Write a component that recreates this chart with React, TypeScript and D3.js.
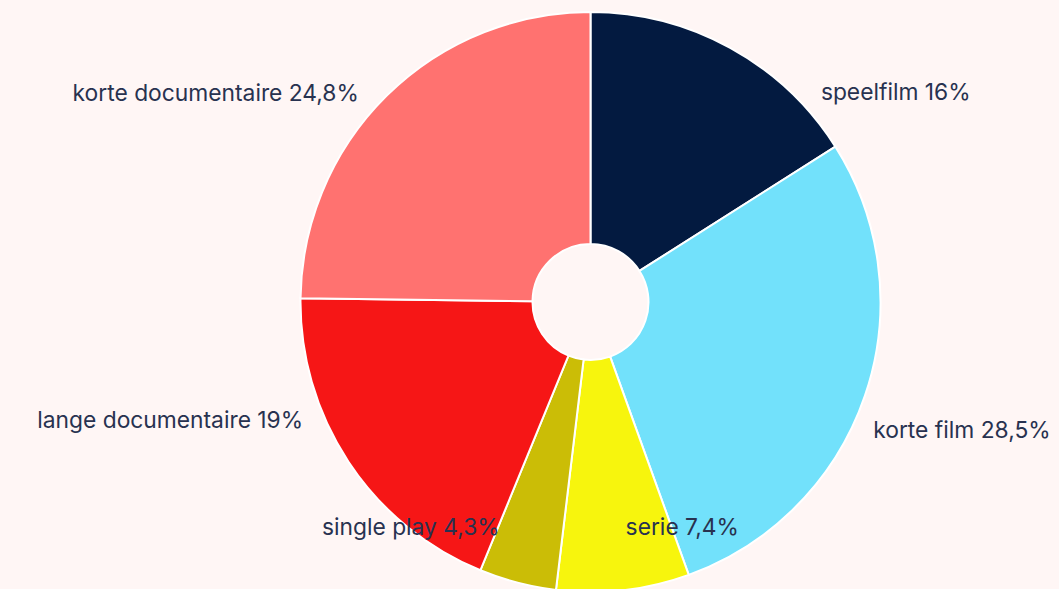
import React, { useEffect, useRef } from 'react';
import * as d3 from 'd3';

// categories + shares (%), clockwise from 12 o'clock
const categories = ['speelfilm', 'korte film', 'serie', 'single play', 'lange documentaire', 'korte documentaire'];
const shares = [16, 28.5, 7.4, 4.3, 19, 24.8];
const colors = ['#031a40', '#72e1fb', '#f7f50d', '#cbbd06', '#f61616', '#ff7270'];

// label layout tweaks (degrees added to the slice mid angle)
const labelNudge = [19, 5.7, 0, 2.4, 11, -3.5];

function App() {
  const svgRef = useRef<SVGSVGElement>(null);

  useEffect(() => {
    const width = 1059, height = 589;
    const cx = 590.5, cy = 302;
    const outer = 290, inner = 58;
    const labelR = 311;

    const svg = d3.select(svgRef.current);
    svg.selectAll('*').remove();
    svg.attr('width', width).attr('height', height);

    svg.append('rect')
      .attr('width', width)
      .attr('height', height)
      .attr('fill', '#fff6f5');

    const g = svg.append('g').attr('transform', `translate(${cx},${cy})`);

    const pie = d3.pie<number>().sort(null).value(d => d);
    const arcs = pie(shares);

    const arc = d3.arc<d3.PieArcDatum<number>>()
      .innerRadius(inner)
      .outerRadius(outer);

    g.selectAll('path.slice')
      .data(arcs)
      .enter()
      .append('path')
      .attr('class', 'slice')
      .attr('d', arc)
      .attr('fill', (d, i) => colors[i])
      .attr('stroke', '#ffffff')
      .attr('stroke-width', 2);

    // labels
    g.selectAll('text.lbl')
      .data(arcs)
      .enter()
      .append('text')
      .attr('class', 'lbl')
      .each(function (d, i) {
        const deg = ((d.startAngle + d.endAngle) / 2) * 180 / Math.PI + labelNudge[i];
        const a = deg * Math.PI / 180;
        const x = labelR * Math.sin(a);
        const y = Math.min(-labelR * Math.cos(a), 226);
        d3.select(this)
          .attr('x', x)
          .attr('y', y)
          .attr('dy', '0.3em')
          .attr('text-anchor', deg < 180 ? 'start' : 'end');
      })
      .attr('font-family', 'Inter, "Noto Sans", sans-serif')
      .attr('font-size', 22.8)
      .attr('fill', '#283250')
      .text((d, i) => `${categories[i]} ${String(shares[i]).replace('.', ',')}%`);
  }, []);

  return (
    <div style={{ position: 'fixed', left: 0, top: 0, width: 1059, height: 589, background: '#fff6f5' }}>
      <svg ref={svgRef} style={{ display: 'block' }}></svg>
    </div>
  );
}

export default App;
